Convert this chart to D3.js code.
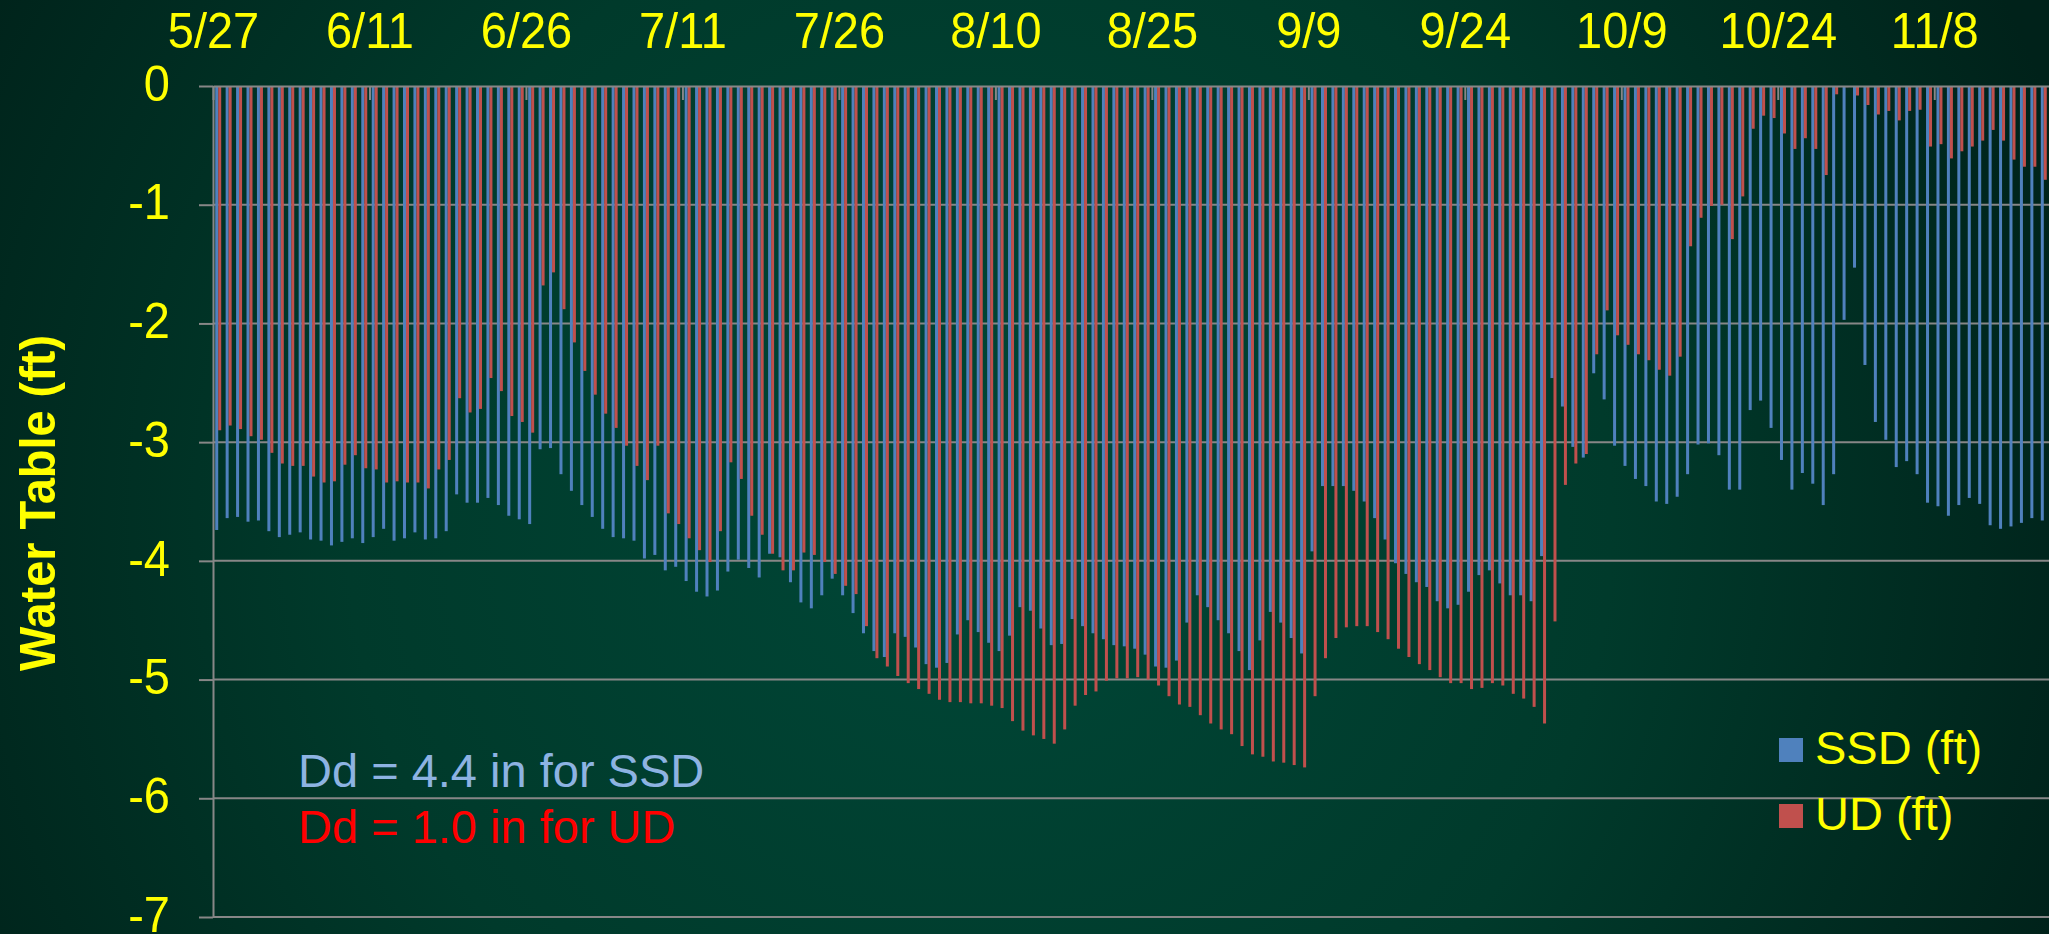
<!DOCTYPE html>
<html>
<head>
<meta charset="utf-8">
<script src="https://cdn.jsdelivr.net/npm/d3@7"></script>
<style>
html, body { margin: 0; padding: 0; overflow: hidden; background: #002a1e; }
svg { display: block; }
text { font-family: Arial, "Liberation Sans", sans-serif; }
</style>
</head>
<body>
<svg width="2049" height="934"></svg>
<script>
// tick labels on the top axis, one every 15 days starting 5/27
var tickLabels = ["5/27", "6/11", "6/26", "7/11", "7/26", "8/10", "8/25", "9/9", "9/24", "10/9", "10/24", "11/8"];
var yTicks = [0, -1, -2, -3, -4, -5, -6, -7];
var seriesNames = ["SSD (ft)", "UD (ft)"];

// daily water table depth, 5/27 .. 11/17
var ssd = [
    -3.74, -3.64, -3.63, -3.67, -3.66, -3.75, -3.80, -3.78, -3.76, -3.82,
    -3.83, -3.87, -3.84, -3.81, -3.85, -3.80, -3.73, -3.83, -3.81, -3.76,
    -3.82, -3.81, -3.75, -3.44, -3.51, -3.51, -3.47, -3.53, -3.62, -3.65,
    -3.69, -3.06, -3.05, -3.27, -3.41, -3.53, -3.63, -3.73, -3.80, -3.81,
    -3.83, -3.98, -3.95, -4.08,
    -4.05, -4.17, -4.26, -4.30, -4.25, -4.09, -3.99, -4.06, -4.14, -3.94,
    -3.97, -4.18, -4.35, -4.40, -4.29, -4.15, -4.29, -4.44, -4.61, -4.76,
    -4.81, -4.61, -4.64, -4.73, -4.87, -4.90, -4.86, -4.62, -4.50, -4.60,
    -4.69, -4.76, -4.63, -4.39, -4.42, -4.57, -4.71, -4.70, -4.49, -4.55,
    -4.61, -4.66, -4.71, -4.72,
    -4.74, -4.79, -4.89, -4.90, -4.84, -4.52, -4.29, -4.39, -4.50, -4.61,
    -4.76, -4.92, -4.67, -4.43, -4.52, -4.65, -4.78, -3.92, -3.37, -3.37,
    -3.37, -3.41, -3.50, -3.64, -3.82, -4.02, -4.11, -4.18, -4.22, -4.34,
    -4.40, -4.37, -4.26, -4.12, -4.08, -4.19, -4.29, -4.29, -4.34, -3.96,
    -2.46, -2.70, -3.04, -3.13,
    -2.42, -2.64, -3.03, -3.20, -3.31, -3.37, -3.50, -3.52, -3.46, -3.27,
    -3.02, -3.01, -3.11, -3.40, -3.40, -2.73, -2.65, -2.88, -3.15, -3.40,
    -3.26, -3.35, -3.53, -3.27, -1.97, -1.53, -2.35, -2.83, -2.98, -3.21,
    -3.16, -3.27, -3.51, -3.54, -3.62, -3.53, -3.47, -3.52, -3.70, -3.73,
    -3.71, -3.68, -3.64, -3.66
];
var ud = [
    -2.90, -2.86, -2.89, -2.95, -2.98, -3.09, -3.18, -3.20, -3.20, -3.29,
    -3.34, -3.33, -3.19, -3.11, -3.22, -3.23, -3.34, -3.33, -3.34, -3.34,
    -3.39, -3.23, -3.15, -2.63, -2.75, -2.72, -2.46, -2.57, -2.78, -2.83,
    -2.92, -1.68, -1.57, -1.88, -2.16, -2.40, -2.60, -2.76, -2.88, -3.03,
    -3.20, -3.32, -3.03, -3.60,
    -3.69, -3.81, -3.91, -4.01, -3.75, -3.17, -3.31, -3.62, -3.78, -3.94,
    -4.08, -4.08, -3.93, -3.95, -4.01, -4.11, -4.21, -4.28, -4.55, -4.82,
    -4.89, -4.97, -5.03, -5.08, -5.12, -5.17, -5.19, -5.19, -5.20, -5.20,
    -5.22, -5.24, -5.35, -5.43, -5.47, -5.50, -5.54, -5.42, -5.22, -5.13,
    -5.10, -5.01, -4.99, -4.99,
    -4.98, -5.00, -5.05, -5.14, -5.21, -5.23, -5.30, -5.37, -5.42, -5.46,
    -5.56, -5.63, -5.65, -5.69, -5.70, -5.72, -5.74, -5.14, -4.82, -4.65,
    -4.56, -4.55, -4.55, -4.60, -4.66, -4.74, -4.81, -4.87, -4.92, -4.98,
    -5.03, -5.03, -5.08, -5.07, -5.03, -5.05, -5.12, -5.16, -5.23, -5.37,
    -4.51, -3.36, -3.18, -3.10,
    -2.26, -1.89, -2.10, -2.18, -2.26, -2.31, -2.39, -2.44, -2.28, -1.35,
    -1.11, -1.01, -1.00, -1.29, -0.93, -0.36, -0.25, -0.27, -0.40, -0.53,
    -0.44, -0.53, -0.75, -0.07, -0.01, -0.08, -0.16, -0.24, -0.21, -0.29,
    -0.21, -0.20, -0.51, -0.49, -0.61, -0.55, -0.51, -0.46, -0.37, -0.46,
    -0.62, -0.68, -0.68, -0.79
];

var colors = ["#4f81bd", "#c0504d"];
var gridColor = "#878787";

var svg = d3.select("svg"),
    W = 2049, H = 934,
    margin = {top: 86, right: 0, bottom: 17, left: 213},
    width = W - margin.left - margin.right,
    height = H - margin.top - margin.bottom;

// background
var defs = svg.append("defs");
var grad = defs.append("radialGradient").attr("id", "bg")
    .attr("gradientUnits", "userSpaceOnUse")
    .attr("cx", 980).attr("cy", 520).attr("r", 1150);
grad.append("stop").attr("offset", "0").attr("stop-color", "#004737");
grad.append("stop").attr("offset", "0.55").attr("stop-color", "#003a2b");
grad.append("stop").attr("offset", "1").attr("stop-color", "#00221a");
svg.append("rect").attr("width", W).attr("height", H).attr("fill", "url(#bg)");

var days = d3.range(ssd.length);

var x = d3.scaleBand().domain(days).range([0, width])
        .paddingInner(0.425).paddingOuter(0.2125),
    x1 = d3.scaleBand().domain([0, 1]).range([0, x.bandwidth()]),
    xb = d3.scaleLinear().domain([0, days.length]).range([0, width]),
    y = d3.scaleLinear().domain([-7, 0]).range([height, 0]);

var g = svg.append("g")
    .attr("transform", "translate(" + margin.left + "," + margin.top + ")");

// gridlines
g.selectAll(".grid")
    .data(yTicks.filter(function(d) { return d !== 0; }))
    .enter().append("line")
    .attr("class", "grid")
    .attr("x1", 0).attr("x2", width)
    .attr("y1", function(d) { return y(d); })
    .attr("y2", function(d) { return y(d); })
    .attr("stroke", gridColor).attr("stroke-width", 2);

// bars
var series = [ssd, ud];
series.forEach(function(vals, s) {
    g.append("g").selectAll("rect")
        .data(days)
        .enter().append("rect")
        .attr("x", function(d) { return x(d) + x1(s); })
        .attr("y", y(0))
        .attr("width", x1.bandwidth())
        .attr("height", function(d) { return y(vals[d]) - y(0); })
        .attr("fill", colors[s]);
});

// top axis (dates)
var xAxis = g.append("g")
    .call(d3.axisTop(xb)
        .tickValues(d3.range(0, tickLabels.length * 15, 15))
        .tickFormat(function(d, i) { return tickLabels[i]; })
        .tickSize(-14).tickSizeOuter(0).tickPadding(38));

// left axis
var yAxis = g.append("g")
    .call(d3.axisLeft(y)
        .tickValues(yTicks)
        .tickFormat(function(d) { return String(d); })
        .tickSize(14).tickSizeOuter(0).tickPadding(29));
yAxis.selectAll(".tick text").attr("dy", "0.28em");

// the source font is a little taller than Arial, stretch glyphs vertically
[xAxis, yAxis].forEach(function(a) {
    a.select(".domain").attr("stroke", gridColor).attr("stroke-width", 2);
    a.selectAll(".tick line").attr("stroke", gridColor).attr("stroke-width", 2);
    a.selectAll(".tick text")
        .attr("fill", "#ffff00")
        .style("font-size", "47px")
        .each(function() {
            var t = d3.select(this);
            var tx = +t.attr("x") || 0, ty = +t.attr("y") || 0;
            t.attr("x", 0).attr("y", 0)
             .attr("transform", "translate(" + tx + "," + ty + ") scale(1,1.08)");
        });
});

// axis title
svg.append("text")
    .attr("transform", "translate(55,503) rotate(-90) scale(1.02,1.1)")
    .attr("text-anchor", "middle")
    .attr("fill", "#ffff00")
    .style("font-size", "46px")
    .style("font-weight", "bold")
    .text("Water Table (ft)");

// notes
svg.append("text")
    .attr("x", 298).attr("y", 787)
    .attr("fill", "#8db3e2")
    .style("font-size", "47px")
    .text("Dd = 4.4 in for SSD");
svg.append("text")
    .attr("x", 298).attr("y", 843)
    .attr("fill", "#ff0000")
    .style("font-size", "47px")
    .text("Dd = 1.0 in for UD");

// legend
var legend = svg.append("g").selectAll("g")
    .data(seriesNames)
    .enter().append("g")
    .attr("transform", function(d, i) { return "translate(1779," + (738 + i * 66) + ")"; });
legend.append("rect")
    .attr("width", 24).attr("height", 24)
    .attr("fill", function(d, i) { return colors[i]; });
legend.append("text")
    .attr("x", 36).attr("y", 26)
    .attr("fill", "#ffff00")
    .style("font-size", "47px")
    .text(function(d) { return d; });
</script>
</body>
</html>
